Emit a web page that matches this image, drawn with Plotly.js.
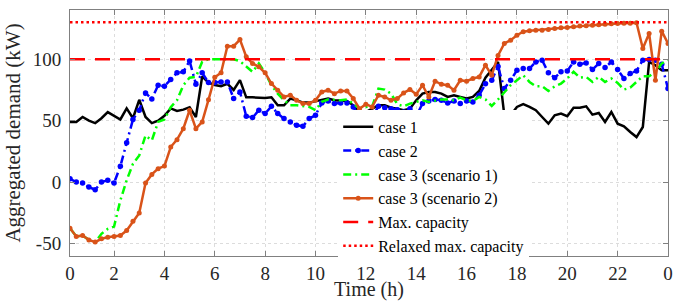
<!DOCTYPE html>
<html>
<head>
<meta charset="utf-8">
<script src="https://cdn.plot.ly/plotly-3.0.1.min.js"></script>
<style>
html,body{margin:0;padding:0;background:#fff;}
#chart{width:678px;height:301px;}
</style>
</head>
<body>
<div id="chart"></div>
<script>
// 15-minute time steps (index 1..96)
var steps = [];
for (var k = 1; k <= 96; k++) steps.push(k);

var xTickVals = [1, 8, 16, 24, 32, 40, 48, 56, 64, 72, 80, 88, 96];
var xTickText = ["0", "2", "4", "6", "8", "10", "12", "14", "16", "18", "20", "22", "0"];
var yTickVals = [-50, 0, 50, 100];
var yTickText = ["-50", "0", "50", "100"];

var case1 = [49,49,53,50,48,52,57,54,51,60,52,67,53,48,50,54,60,58,59,61,53,86,81,79,
  78,80,75,83,69,69,68.5,68.5,69,62.5,62.5,68,66.6,64.7,64.7,65.8,67.4,68,66.6,66,66,62.5,56,
  57,60,62.5,62.5,60.6,59.8,58.5,59.8,66.6,72,73.4,73.4,72,69.3,70.7,69.3,68,69.3,74.2,85,91,97.8,
  54.4,54.4,61.2,63.4,61.2,58.5,53,47.6,54.4,55.8,53.6,60.6,60.6,61.7,54.9,56.3,49,57.1,47.6,45.4,40.8,36.7,44.9,97.8,95.1,91,91];

var case2 = [2.8,0.1,-0.7,-4,-6.1,0.1,1.5,-0.7,13,32,51,58.5,72.6,67.7,78.8,78,83.4,88.9,89.7,98.6,79.6,88.9,81,81,
  81.5,81.5,68,73.4,53.6,52.5,58.5,55.8,61.7,55.8,51.7,49,46.3,45.4,51.7,54.4,64.4,66,63.9,64.4,64.4,61.2,53,
  56.3,53,61.7,60.6,59.8,59,57.1,59.8,53.6,63.9,66,67.2,66.6,64.4,66,63.9,66,65.3,70.7,80,82.9,94,
  76.1,82.9,91,92.4,92.4,97.8,99.2,88.9,85,89.7,90.5,97.8,95.9,97,91.6,96.5,93.2,97.8,91.6,84.3,88.3,90.5,99.2,99.7,99.2,95.9,76.1];

var case3s1 = [-37.4,-44.1,-43.3,-46.9,-48.7,-42,-38,-36,-14.8,1.5,15,21.8,38,34,49,51,61,66.6,78.8,85,85.6,98,100,100,
  100,100,100,98.4,94.3,89.7,96.5,88.9,78.8,72,66.6,62.5,62.5,61.7,61.2,58.5,65.3,67.2,66.6,66.6,67.2,63.9,59.8,
  61.2,61.7,76.1,75.3,72,63.4,61.7,63.9,65.3,66.6,65.3,66,67.2,67.2,66.6,68.8,66.6,66,69.3,67.3,62,67.3,
  73.4,78.8,82.9,87,81.5,78,78,74.2,78,80.2,84.3,89.7,85,85.6,81.5,85.6,81.5,84.3,80.7,75.3,76.9,81.5,86.2,86.2,89.7,96.5,99.2];

var case3s2 = [-37.4,-44.1,-43.3,-46.9,-48.7,-46,-44.7,-44.1,-43.3,-39.3,-31.7,-25.1,-0.7,6.3,11,13.1,28.6,34.6,43.5,58.5,43.5,49,67,85.3,
  88.9,110.6,110.6,116,102,96.5,93.8,88.9,80.2,74.8,69.3,70.7,66.6,63.9,63.9,66.6,73.4,74.8,72,74.2,74.2,68,59.8,
  63.4,61.2,70.7,69.3,66.6,68,72.6,75.3,71.5,78.8,69.3,82.1,79.6,78.8,74.8,82.9,82.1,84.3,85.6,95.1,87,103,
  112.8,115.5,119.5,122.3,123.1,123.6,123.6,124.2,125,125.5,125.8,126.3,126.9,127.1,127.7,128,128.5,128.8,129,129.2,129.3,129.6,108.7,120.9,82.9,122.8,112.8];

var capX = [1, 96];
var maxCap = [100, 100];
var relaxedCap = [130, 130];

var seriesNames = ["case 1", "case 2", "case 3 (scenario 1)", "case 3 (scenario 2)", "Max. capacity", "Relaxed max. capacity"];

var traces = [
  {x: steps, y: case1, name: seriesNames[0], type: 'scatter', mode: 'lines',
   line: {color: '#000000', width: 2.5}},
  {x: steps, y: case2, name: seriesNames[1], type: 'scatter', mode: 'lines+markers',
   line: {color: '#0000FF', width: 2.5, dash: '8px,4px,2px,4px'},
   marker: {color: '#0000FF', size: 5.5}},
  {x: steps, y: case3s1, name: seriesNames[2], type: 'scatter', mode: 'lines',
   line: {color: '#00FF00', width: 2.5, dash: '8px,4px,2px,4px'}},
  {x: steps, y: case3s2, name: seriesNames[3], type: 'scatter', mode: 'lines+markers',
   line: {color: '#D95319', width: 2.5},
   marker: {color: '#D95319', size: 5}},
  {x: capX, y: maxCap, name: seriesNames[4], type: 'scatter', mode: 'lines',
   line: {color: '#FF0000', width: 2.5, dash: '15px,10px'}},
  {x: capX, y: relaxedCap, name: seriesNames[5], type: 'scatter', mode: 'lines',
   line: {color: '#FF0000', width: 2.5, dash: '2.5px,3px'}}
];

var SERIF = 'Times New Roman';
var layout = {
  width: 678, height: 301,
  margin: {l: 70, r: 10, t: 10, b: 45, pad: 0},
  paper_bgcolor: '#ffffff', plot_bgcolor: '#ffffff',
  font: {family: SERIF, size: 19, color: '#262626'},
  showlegend: true,
  legend: {x: 0.4485, xanchor: 'left', y: 0.283, yanchor: 'middle',
    bgcolor: 'rgba(255,255,255,1)', borderwidth: 0,
    font: {family: SERIF, size: 16, color: '#000000'}},
  xaxis: {range: [1, 96], tickvals: xTickVals, ticktext: xTickText,
    ticks: 'inside', ticklen: 5, tickcolor: '#808080', showline: true, linecolor: '#808080', linewidth: 1,
    mirror: 'ticks', showgrid: true, gridcolor: '#dcdcdc', griddash: 'dot', zeroline: false,
    tickfont: {family: SERIF, size: 19, color: '#262626'},
    title: {text: 'Time (h)', font: {family: SERIF, size: 20, color: '#262626'}, standoff: 0}},
  yaxis: {range: [-60, 140], tickvals: yTickVals, ticktext: yTickText,
    ticks: 'inside', ticklen: 5, tickcolor: '#808080', showline: true, linecolor: '#808080', linewidth: 1,
    mirror: 'ticks', showgrid: true, gridcolor: '#dcdcdc', griddash: 'dot', zeroline: false,
    tickfont: {family: SERIF, size: 19, color: '#262626'}, ticklabelstandoff: 4,
    title: {text: 'Aggregated demand (kW)', font: {family: SERIF, size: 21, color: '#262626'}, standoff: 6}}
};

Plotly.newPlot('chart', traces, layout, {displayModeBar: false});
</script>
</body>
</html>
